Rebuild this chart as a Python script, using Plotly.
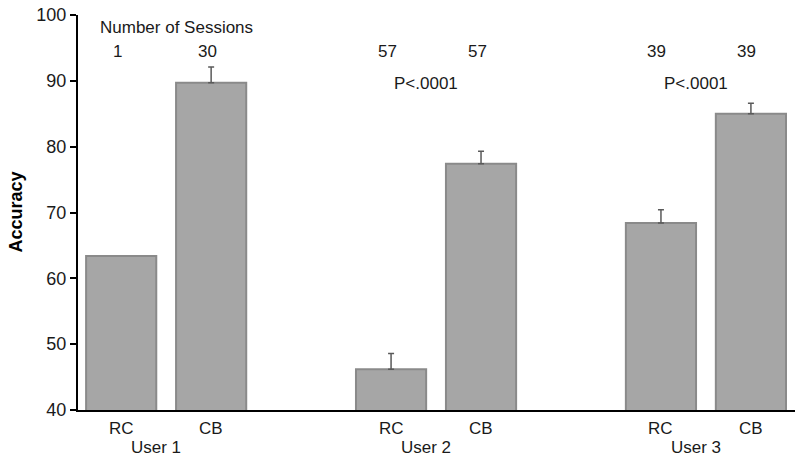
import plotly.graph_objects as go

users = ["User 1", "User 2", "User 3"]
conditions = ["RC", "CB"]
accuracy = {"RC": [63.4, 46.2, 68.4], "CB": [89.7, 77.4, 85.0]}
error_up = {"RC": [None, 2.4, 2.0], "CB": [2.4, 1.9, 1.6]}
sessions = {"RC": ["1", "57", "39"], "CB": ["30", "57", "39"]}
p_values = ["", "P<.0001", "P<.0001"]
y_ticks = [40, 50, 60, 70, 80, 90, 100]

FONT = "Liberation Sans, Arial, sans-serif"
TXT = "#1a1a1a"

fig = go.Figure()
ann = []
for g in range(len(users)):
    for j, c in enumerate(conditions):
        x = g * 3 + j
        e = error_up[c][g]
        fig.add_trace(go.Bar(
            x=[x], y=[accuracy[c][g]], width=0.78,
            marker=dict(color="#a6a6a6", line=dict(color="#8a8a8a", width=2)),
            error_y=dict(type="data", symmetric=False, array=[e if e else 0],
                         arrayminus=[0], color="#5a5a5a",
                         thickness=1.5, width=3, visible=e is not None),
            showlegend=False, hoverinfo="skip",
        ))
        ann.append(dict(x=x, y=0, xref="x", yref="paper", text=c, showarrow=False,
                        yanchor="middle", yshift=-18,
                        font=dict(size=17, color=TXT, family=FONT)))
        ann.append(dict(x=x, y=1, xref="x", yref="paper", text=sessions[c][g],
                        showarrow=False, yanchor="middle", yshift=-36, xshift=-4,
                        font=dict(size=17, color=TXT, family=FONT)))

for g, u in enumerate(users):
    ann.append(dict(x=g * 3 + 0.5, y=0, xref="x", yref="paper", text=u, showarrow=False,
                    yanchor="middle", yshift=-37, xshift=-10,
                    font=dict(size=17, color=TXT, family=FONT)))
    if p_values[g]:
        ann.append(dict(x=g * 3 + 0.5, y=1, xref="x", yref="paper", text=p_values[g],
                        showarrow=False, yanchor="middle", yshift=-68, xshift=-10,
                        font=dict(size=17, color=TXT, family=FONT)))
ann.append(dict(x=0, y=1, xref="x", yref="paper", text="Number of Sessions",
                showarrow=False, xanchor="left", yanchor="middle", xshift=-23, yshift=-12,
                font=dict(size=17, color=TXT, family=FONT)))
ann.append(dict(x=0, y=0.5, xref="paper", yref="paper", text="<b>Accuracy</b>",
                showarrow=False, textangle=-90, xanchor="center", yanchor="middle",
                xshift=-63, font=dict(size=18, color="#000000", family=FONT)))

fig.update_layout(
    width=800, height=462,
    margin=dict(l=78, r=5, t=12, b=52),
    plot_bgcolor="white", paper_bgcolor="white",
    annotations=ann,
    xaxis=dict(range=[-0.48, 7.49], showticklabels=False, showgrid=False,
               zeroline=False, showline=True, linecolor="black", linewidth=2, ticks=""),
    yaxis=dict(range=[40, 100], tickvals=y_ticks, showgrid=False, zeroline=False,
               showline=True, linecolor="black", linewidth=2, ticks="outside",
               ticklen=6, tickwidth=2, tickcolor="black", ticklabeloverflow="allow",
               tickfont=dict(size=18, color=TXT, family=FONT)),
)

fig.write_html("out.html", config={"displayModeBar": False},
               post_script="document.body.style.margin='0';document.body.style.overflow='hidden';")
